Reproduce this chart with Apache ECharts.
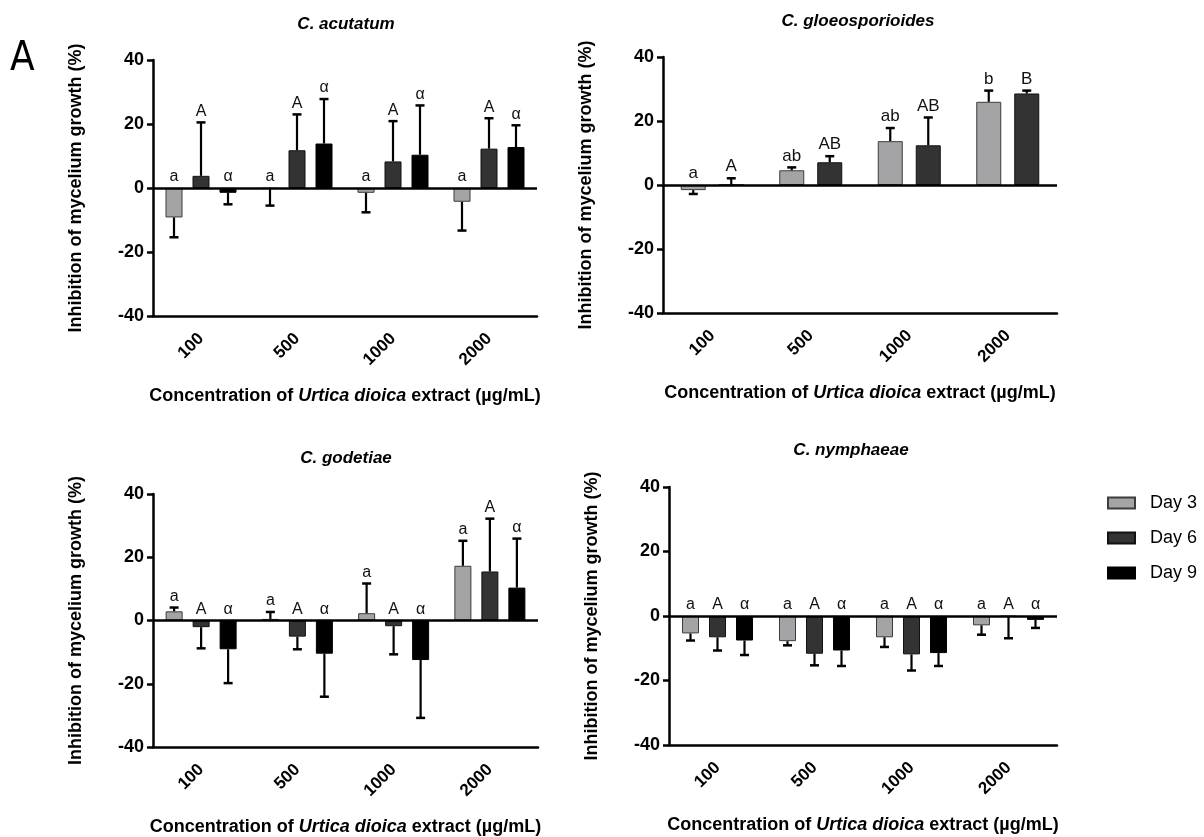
<!DOCTYPE html>
<html>
<head>
<meta charset="utf-8">
<script src="https://cdn.jsdelivr.net/npm/echarts@6/dist/echarts.min.js"></script>
<style>
  html, body { margin: 0; padding: 0; background: #fff; }
  #chart { width: 1204px; height: 837px; }
</style>
</head>
<body>
<div id="chart"></div>
<script>
// Concentrations of the nettle extract (µg/mL) and sampling days
const concentrations = ['100', '500', '1000', '2000'];
const dayNames = ['Day 3', 'Day 6', 'Day 9'];

// C. acutatum: mean inhibition (%) and SD per day
const acutatumDay3 = [-9.2, -0.2, -1.5, -4.3];
const acutatumDay3Sd = [6.2, 5.3, 6.1, 9.0];
const acutatumDay6 = [3.8, 11.8, 8.3, 12.3];
const acutatumDay6Sd = [16.7, 11.2, 12.6, 9.5];
const acutatumDay9 = [-1.5, 13.9, 10.4, 12.8];
const acutatumDay9Sd = [3.6, 13.9, 15.4, 6.8];
const acutatumLetters3 = ['a', 'a', 'a', 'a'];
const acutatumLetters6 = ['A', 'A', 'A', 'A'];
const acutatumLetters9 = ['α', 'α', 'α', 'α'];

// C. gloeosporioides (days 3 and 6 only)
const gloeoDay3 = [-1.6, 4.6, 13.7, 26.0];
const gloeoDay3Sd = [1.2, 0.9, 4.1, 3.5];
const gloeoDay6 = [0, 7.1, 12.4, 28.6];
const gloeoDay6Sd = [2.1, 1.9, 8.7, 0.9];
const gloeoLetters3 = ['a', 'ab', 'ab', 'b'];
const gloeoLetters6 = ['A', 'AB', 'AB', 'B'];

// C. godetiae
const godetiaeDay3 = [2.9, 0.5, 2.3, 17.3];
const godetiaeDay3Sd = [1.2, 2.2, 9.4, 7.9];
const godetiaeDay6 = [-2.1, -5.1, -1.8, 15.5];
const godetiaeDay6Sd = [6.7, 4.0, 8.9, 16.7];
const godetiaeDay9 = [-9.1, -10.5, -12.5, 10.4];
const godetiaeDay9Sd = [10.7, 13.6, 18.3, 15.5];
const godetiaeLetters3 = ['a', 'a', 'a', 'a'];
const godetiaeLetters6 = ['A', 'A', 'A', 'A'];
const godetiaeLetters9 = ['α', 'α', 'α', 'α'];

// C. nymphaeae
const nymphDay3 = [-5.4, -7.8, -6.6, -2.9];
const nymphDay3Sd = [2.2, 1.3, 3.0, 2.9];
const nymphDay6 = [-6.6, -11.7, -11.9, -0.2];
const nymphDay6Sd = [4.1, 3.6, 5.0, 6.7];
const nymphDay9 = [-7.6, -10.7, -11.5, -1.2];
const nymphDay9Sd = [4.5, 4.8, 4.0, 2.5];
const nymphLetters3 = ['a', 'a', 'a', 'a'];
const nymphLetters6 = ['A', 'A', 'A', 'A'];
const nymphLetters9 = ['α', 'α', 'α', 'α'];

const yTicks = { min: -40, max: 40, step: 20 };

const FONT = '"Liberation Sans", Arial, Helvetica, sans-serif';
const dayColors = ['#a4a4a7', '#333333', '#000000'];
const dayBorders = ['#3c3c3c', '#111111', '#000000'];

const panels = [
  { title: 'C. acutatum', grid: { left: 153, top: 60, width: 384, height: 256 }, titleXY: [346, 24],
    barW: 17, gap: 10, letterSize: 16,
    days: [
      { v: acutatumDay3, sd: acutatumDay3Sd, lab: acutatumLetters3 },
      { v: acutatumDay6, sd: acutatumDay6Sd, lab: acutatumLetters6 },
      { v: acutatumDay9, sd: acutatumDay9Sd, lab: acutatumLetters9 }
    ] },
  { title: 'C. gloeosporioides', grid: { left: 663, top: 57, width: 394, height: 256 }, titleXY: [858, 21],
    barW: 25, gap: 13, letterSize: 17,
    days: [
      { v: gloeoDay3, sd: gloeoDay3Sd, lab: gloeoLetters3 },
      { v: gloeoDay6, sd: gloeoDay6Sd, lab: gloeoLetters6 }
    ] },
  { title: 'C. godetiae', grid: { left: 153, top: 494, width: 385, height: 253 }, titleXY: [346, 458],
    barW: 17, gap: 10, letterSize: 16,
    days: [
      { v: godetiaeDay3, sd: godetiaeDay3Sd, lab: godetiaeLetters3 },
      { v: godetiaeDay6, sd: godetiaeDay6Sd, lab: godetiaeLetters6 },
      { v: godetiaeDay9, sd: godetiaeDay9Sd, lab: godetiaeLetters9 }
    ] },
  { title: 'C. nymphaeae', grid: { left: 669, top: 487, width: 388, height: 258 }, titleXY: [851, 450],
    barW: 17, gap: 10, letterSize: 16,
    days: [
      { v: nymphDay3, sd: nymphDay3Sd, lab: nymphLetters3 },
      { v: nymphDay6, sd: nymphDay6Sd, lab: nymphLetters6 },
      { v: nymphDay9, sd: nymphDay9Sd, lab: nymphLetters9 }
    ] }
];

const grids = [], xAxes = [], yAxes = [], series = [], graphics = [];

panels.forEach((p, g) => {
  grids.push(Object.assign({ containLabel: false }, p.grid));
  xAxes.push({
    type: 'category', gridIndex: g, data: concentrations, position: 'bottom',
    axisLine: { onZero: false, lineStyle: { color: '#000', width: 2.5 } },
    axisTick: { alignWithLabel: true, length: 7, lineStyle: { color: '#000', width: 2.5 } },
    axisLabel: { rotate: 45, fontSize: 17, fontWeight: 'bold', color: '#000', fontFamily: FONT, margin: 20 },
    splitLine: { show: false },
    name: '{n|Concentration of }{i|Urtica dioica}{n| extract (µg/mL)}',
    nameLocation: 'middle', nameGap: 71,
    nameTextStyle: {
      rich: {
        n: { fontSize: 18, fontWeight: 'bold', color: '#000', fontFamily: FONT },
        i: { fontSize: 18, fontWeight: 'bold', fontStyle: 'italic', color: '#000', fontFamily: FONT }
      }
    }
  });
  yAxes.push({
    type: 'value', gridIndex: g, min: yTicks.min, max: yTicks.max, interval: yTicks.step,
    axisLine: { show: true, lineStyle: { color: '#000', width: 2.5 } },
    axisTick: { show: true, length: 6, lineStyle: { color: '#000', width: 2.5 } },
    axisLabel: { fontSize: 18, fontWeight: 'bold', color: '#000', fontFamily: FONT, margin: 9 },
    splitLine: { show: false },
    name: 'Inhibition of mycelium growth (%)', nameLocation: 'middle', nameGap: 68,
    nameTextStyle: { fontSize: 18, fontWeight: 'bold', color: '#000', fontFamily: FONT }
  });

  const n = p.days.length;
  const groupW = n * p.barW + (n - 1) * p.gap;

  p.days.forEach((d, i) => {
    const bar = {
      type: 'bar', name: dayNames[i], xAxisIndex: g, yAxisIndex: g,
      data: d.v, barWidth: p.barW, barGap: (p.gap / p.barW * 100) + '%',
      itemStyle: { color: dayColors[i], borderColor: dayBorders[i], borderWidth: 1 },
      z: 2
    };
    if (i === 0) {
      // zero reference line across the plot
      bar.markLine = {
        silent: true, symbol: 'none', label: { show: false },
        lineStyle: { color: '#000', width: 2.5, type: 'solid' },
        data: [{ yAxis: 0 }], z: 5
      };
    }
    series.push(bar);

    // one-sided SD whiskers plus significance letters
    const off = -groupW / 2 + p.barW / 2 + i * (p.barW + p.gap);
    const labels = d.lab;
    const fs = p.letterSize;
    series.push({
      type: 'custom', name: 'sd-' + g + '-' + i, xAxisIndex: g, yAxisIndex: g, z: 6,
      data: d.v.map((v, k) => [k, v, d.sd[k]]),
      renderItem: function (params, api) {
        const k = api.value(0), v = api.value(1), sd = api.value(2);
        const dir = v >= 0 ? 1 : -1;
        const base = api.coord([k, v]);
        const tip = api.coord([k, v + dir * sd]);
        const zero = api.coord([k, 0]);
        const x = base[0] + off;
        const labY = v >= 0 ? tip[1] : zero[1];
        const cap = 9;
        return {
          type: 'group',
          children: [
            { type: 'line', shape: { x1: x, y1: base[1], x2: x, y2: tip[1] },
              style: { stroke: '#000', lineWidth: 2.2 } },
            { type: 'line', shape: { x1: x - cap / 2, y1: tip[1], x2: x + cap / 2, y2: tip[1] },
              style: { stroke: '#000', lineWidth: 2.5 } },
            { type: 'text', x: x, y: labY - 3,
              style: { text: labels[k], fill: '#111', font: fs + 'px ' + FONT,
                       align: 'center', verticalAlign: 'bottom' } }
          ]
        };
      }
    });
  });

  graphics.push({
    type: 'text', x: p.titleXY[0], y: p.titleXY[1],
    style: { text: p.title, fill: '#000', font: 'italic bold 17px ' + FONT, align: 'center', verticalAlign: 'middle' }
  });
});

// panel letter
graphics.push({
  type: 'text', x: 10, y: 40,
  style: { text: 'A', fill: '#000', font: '40px "DejaVu Sans Condensed", "Liberation Sans Narrow", "DejaVu Sans", sans-serif' }
});

const chart = echarts.init(document.getElementById('chart'), null, { renderer: 'canvas' });
chart.setOption({
  animation: false,
  backgroundColor: '#fff',
  grid: grids,
  xAxis: xAxes,
  yAxis: yAxes,
  legend: {
    data: dayNames, orient: 'vertical', left: 1102, top: 489,
    itemWidth: 27, itemHeight: 11, itemGap: 17, icon: 'rect',
    textStyle: { fontSize: 18, color: '#000', fontFamily: FONT, padding: [0, 0, 0, 10] },
    selectedMode: false
  },
  series: series,
  graphic: graphics
});
</script>
</body>
</html>
